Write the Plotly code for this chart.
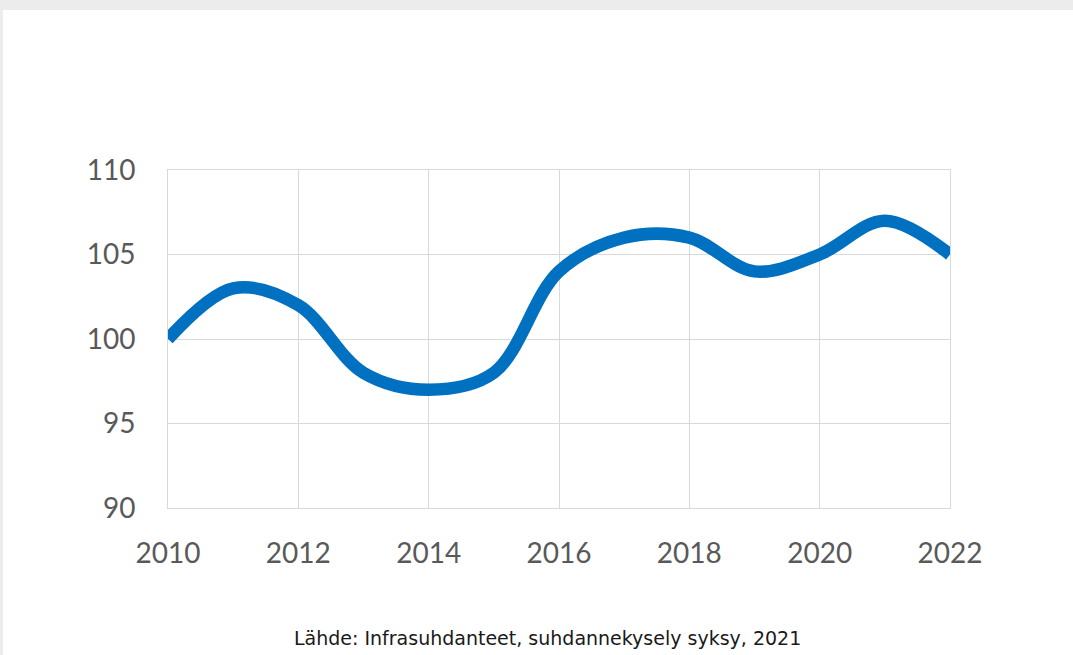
"""Infrastructure business-cycle index, 2010-2022."""

import plotly.graph_objects as go

YEARS = [2010, 2011, 2012, 2013, 2014, 2015, 2016, 2017, 2018, 2019, 2020, 2021, 2022]
INDEX = [100, 103, 102, 98, 97, 98, 104, 106, 106, 104, 105, 107, 105]
SOURCE = "Lähde: Infrasuhdanteet, suhdannekysely syksy, 2021"

WIDTH, HEIGHT = 1073, 655
MARGIN = {"l": 168, "r": 123, "t": 170, "b": 147}
PLOT_W = WIDTH - MARGIN["l"] - MARGIN["r"]
PLOT_H = HEIGHT - MARGIN["t"] - MARGIN["b"]


def px_to_paper_x(px):
    return (px - MARGIN["l"]) / PLOT_W


def px_to_paper_y(px):
    return (HEIGHT - MARGIN["b"] - px) / PLOT_H


fig = go.Figure(
    go.Scatter(
        x=YEARS,
        y=INDEX,
        mode="lines",
        line={"color": "#0070C0", "width": 12.5, "shape": "spline", "smoothing": 1},
        hoverinfo="x+y",
    )
)

# white card on grey page
fig.add_shape(
    type="rect",
    xref="paper",
    yref="paper",
    x0=px_to_paper_x(3),
    x1=px_to_paper_x(WIDTH + 5),
    y0=px_to_paper_y(HEIGHT + 5),
    y1=px_to_paper_y(10),
    fillcolor="white",
    line={"width": 0},
    layer="below",
)

fig.add_annotation(
    text=SOURCE,
    xref="paper",
    yref="paper",
    x=px_to_paper_x(547),
    y=px_to_paper_y(638),
    yanchor="middle",
    xanchor="center",
    showarrow=False,
    font={"family": "DejaVu Sans, sans-serif", "size": 19, "color": "#1A1A1A"},
)

grid = "#D9D9D9"
tick_font = {"family": "Lato, 'Open Sans', sans-serif", "size": 28, "color": "#595959"}
common = {
    "gridcolor": grid,
    "gridwidth": 1,
    "zeroline": False,
    "showline": True,
    "linecolor": grid,
    "linewidth": 1,
    "mirror": True,
    "ticks": "outside",
    "tickcolor": "rgba(0,0,0,0)",
    "tickfont": tick_font,
    "fixedrange": True,
}

fig.update_layout(
    width=WIDTH,
    height=HEIGHT,
    margin=MARGIN,
    paper_bgcolor="#ECECEC",
    plot_bgcolor="white",
    showlegend=False,
    xaxis={**common, "range": [2010, 2022], "tickmode": "array", "tickvals": YEARS[::2], "ticklen": 20},
    yaxis={**common, "range": [90, 110], "tickmode": "array", "tickvals": [90, 95, 100, 105, 110], "ticklen": 26},
)

fig.write_html(
    "out.html",
    config={"displayModeBar": False},
    post_script="document.body.style.margin='0';document.body.style.overflow='hidden';",
)
